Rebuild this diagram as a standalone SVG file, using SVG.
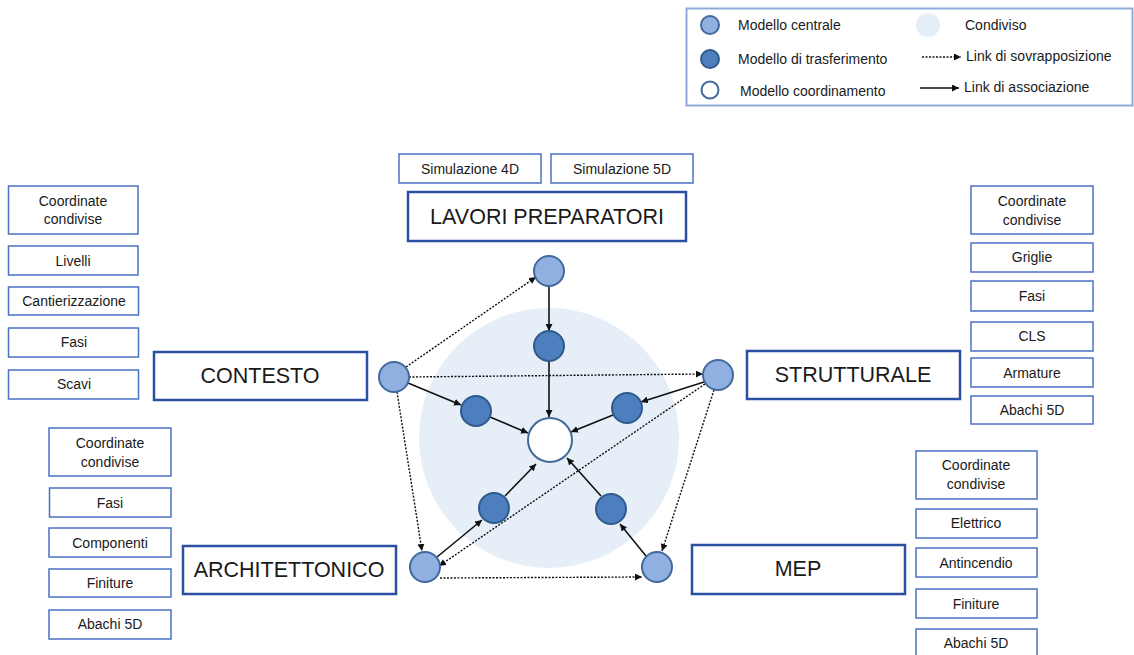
<svg xmlns="http://www.w3.org/2000/svg" width="1134" height="655" viewBox="0 0 1134 655">
  <defs>
    <style>
      text { font-family: "Liberation Sans", Arial, sans-serif; fill: #1a1a1a; }
      .big { fill: #fff; stroke: #2a4fa3; stroke-width: 2.5; }
      .big-t { font-size: 21.5px; text-anchor: middle; dominant-baseline: central; }
      .tag { fill: #fff; stroke: #4a72c4; stroke-width: 1.5; }
      .tag-t { font-size: 14px; text-anchor: middle; dominant-baseline: central; }
      .leg-t { font-size: 14px; dominant-baseline: central; }
      .central { fill: #8fb0e0; stroke: #41699c; stroke-width: 2; }
      .transfer { fill: #4d7ebd; stroke: #2f5a8c; stroke-width: 2; }
      .coord { fill: #fff; stroke: #41699c; stroke-width: 2; }
      .assoc { stroke: #111; stroke-width: 1.6; fill: none; marker-end: url(#arr); }
      .overlap { stroke: #111; stroke-width: 1.4; stroke-dasharray: 2 1.5; fill: none; marker-end: url(#arr); }
    </style>
    <marker id="arr" viewBox="0 0 10 10" refX="10" refY="5" markerWidth="7" markerHeight="7" markerUnits="userSpaceOnUse" orient="auto">
      <path d="M0,0 L10,5 L0,10 z" fill="#111"/>
    </marker>
  </defs>

  <!-- legend -->
  <g id="legend">
    <rect x="686.5" y="8.5" width="446" height="97" fill="#fff" stroke="#8eaadb" stroke-width="2"/>
    <circle class="central" cx="710" cy="25" r="9"/>
    <text class="leg-t" x="738" y="25">Modello centrale</text>
    <circle class="transfer" cx="710" cy="59" r="9"/>
    <text class="leg-t" x="738" y="59">Modello di trasferimento</text>
    <circle class="coord" cx="710" cy="90" r="8.5"/>
    <text class="leg-t" x="740" y="91">Modello coordinamento</text>
    <circle cx="928" cy="25" r="12" fill="#e6eef8"/>
    <text class="leg-t" x="965" y="25">Condiviso</text>
    <line class="overlap" x1="922" y1="57" x2="961" y2="57"/>
    <text class="leg-t" x="966" y="56">Link di sovrapposizione</text>
    <line class="assoc" x1="920" y1="88" x2="959" y2="88"/>
    <text class="leg-t" x="964" y="87">Link di associazione</text>
  </g>

  <!-- shared area -->
  <circle id="shared" cx="549" cy="438" r="130" fill="#e6eef8"/>

  <!-- connectors -->
  <g id="connectors">
    <!-- overlap links -->
    <line class="overlap" x1="406" y1="367" x2="536" y2="277"/>
    <line class="overlap" x1="409" y1="377" x2="703" y2="374"/>
    <line class="overlap" x1="397" y1="392" x2="422" y2="551"/>
    <line class="overlap" x1="705" y1="384" x2="439" y2="566"/>
    <line class="overlap" x1="714" y1="390" x2="662" y2="551"/>
    <line class="overlap" x1="440" y1="578" x2="642" y2="577"/>
    <!-- association links -->
    <line class="assoc" x1="549" y1="286" x2="549" y2="331"/>
    <line class="assoc" x1="549" y1="361" x2="549" y2="417"/>
    <line class="assoc" x1="408" y1="383" x2="461" y2="405"/>
    <line class="assoc" x1="490" y1="417" x2="528" y2="433"/>
    <line class="assoc" x1="704" y1="382" x2="641" y2="402"/>
    <line class="assoc" x1="613" y1="415" x2="571" y2="432"/>
    <line class="assoc" x1="437" y1="557" x2="482" y2="520"/>
    <line class="assoc" x1="505" y1="496" x2="536" y2="464"/>
    <line class="assoc" x1="646" y1="556" x2="620" y2="524"/>
    <line class="assoc" x1="601" y1="496" x2="567" y2="458"/>
  </g>

  <!-- model nodes -->
  <g id="node-top-central"><circle class="central" cx="549" cy="271" r="15"/></g>
  <g id="node-top-transfer"><circle class="transfer" cx="549" cy="346" r="15"/></g>
  <g id="node-coordination"><circle class="coord" cx="550" cy="440" r="22"/></g>
  <g id="node-left-central"><circle class="central" cx="394" cy="377" r="15"/></g>
  <g id="node-right-central"><circle class="central" cx="718" cy="375" r="15"/></g>
  <g id="node-left-transfer"><circle class="transfer" cx="476" cy="411" r="15"/></g>
  <g id="node-right-transfer"><circle class="transfer" cx="627" cy="408" r="15"/></g>
  <g id="node-lowleft-transfer"><circle class="transfer" cx="494" cy="508" r="15"/></g>
  <g id="node-lowright-transfer"><circle class="transfer" cx="611" cy="509" r="15"/></g>
  <g id="node-arch-central"><circle class="central" cx="425" cy="567" r="15"/></g>
  <g id="node-mep-central"><circle class="central" cx="657" cy="567" r="15"/></g>

  <!-- LAVORI PREPARATORI -->
  <g id="lavori">
    <rect class="tag" x="399" y="154" width="142" height="29"/>
    <text class="tag-t" x="470" y="169">Simulazione 4D</text>
    <rect class="tag" x="551" y="154" width="142" height="29"/>
    <text class="tag-t" x="622" y="169">Simulazione 5D</text>
    <rect class="big" x="408" y="192" width="278" height="49"/>
    <text class="big-t" x="547" y="217">LAVORI PREPARATORI</text>
  </g>

  <!-- CONTESTO -->
  <g id="contesto">
    <rect class="big" x="154" y="352" width="213" height="48"/>
    <text class="big-t" x="260" y="376">CONTESTO</text>
    <rect class="tag" x="8.5" y="186" width="129.5" height="48"/>
    <text class="tag-t" x="73" y="201">Coordinate</text>
    <text class="tag-t" x="73" y="219">condivise</text>
    <rect class="tag" x="8.5" y="246" width="129.5" height="29"/>
    <text class="tag-t" x="73" y="261">Livelli</text>
    <rect class="tag" x="8.5" y="287" width="130" height="28"/>
    <text class="tag-t" x="74" y="301">Cantierizzazione</text>
    <rect class="tag" x="8.5" y="328" width="130" height="29"/>
    <text class="tag-t" x="74" y="342">Fasi</text>
    <rect class="tag" x="8.5" y="370" width="130" height="29"/>
    <text class="tag-t" x="74" y="384">Scavi</text>
  </g>

  <!-- STRUTTURALE -->
  <g id="strutturale">
    <rect class="big" x="747" y="351" width="213" height="48"/>
    <text class="big-t" x="853" y="375">STRUTTURALE</text>
    <rect class="tag" x="971" y="186" width="122" height="48"/>
    <text class="tag-t" x="1032" y="201">Coordinate</text>
    <text class="tag-t" x="1032" y="220">condivise</text>
    <rect class="tag" x="971" y="243" width="122" height="29"/>
    <text class="tag-t" x="1032" y="257">Griglie</text>
    <rect class="tag" x="971" y="281" width="122" height="30"/>
    <text class="tag-t" x="1032" y="296">Fasi</text>
    <rect class="tag" x="971" y="322" width="122" height="29"/>
    <text class="tag-t" x="1032" y="336">CLS</text>
    <rect class="tag" x="971" y="358" width="122" height="29"/>
    <text class="tag-t" x="1032" y="373">Armature</text>
    <rect class="tag" x="971" y="396" width="122" height="28"/>
    <text class="tag-t" x="1032" y="410">Abachi 5D</text>
  </g>

  <!-- ARCHITETTONICO -->
  <g id="architettonico">
    <rect class="big" x="183" y="546" width="213" height="48"/>
    <text class="big-t" x="289" y="570">ARCHITETTONICO</text>
    <rect class="tag" x="49" y="428" width="122" height="48"/>
    <text class="tag-t" x="110" y="443">Coordinate</text>
    <text class="tag-t" x="110" y="462">condivise</text>
    <rect class="tag" x="49.5" y="488" width="121.5" height="29"/>
    <text class="tag-t" x="110" y="503">Fasi</text>
    <rect class="tag" x="49" y="528" width="122" height="29"/>
    <text class="tag-t" x="110" y="543">Componenti</text>
    <rect class="tag" x="49" y="569" width="122" height="28"/>
    <text class="tag-t" x="110" y="583">Finiture</text>
    <rect class="tag" x="49" y="610" width="122" height="29"/>
    <text class="tag-t" x="110" y="624">Abachi 5D</text>
  </g>

  <!-- MEP -->
  <g id="mep">
    <rect class="big" x="692" y="545" width="213" height="49"/>
    <text class="big-t" x="798" y="569">MEP</text>
    <rect class="tag" x="916" y="451" width="121" height="48"/>
    <text class="tag-t" x="976" y="465">Coordinate</text>
    <text class="tag-t" x="976" y="484">condivise</text>
    <rect class="tag" x="916" y="509" width="121" height="29"/>
    <text class="tag-t" x="976" y="523">Elettrico</text>
    <rect class="tag" x="916" y="548" width="121" height="29"/>
    <text class="tag-t" x="976" y="563">Antincendio</text>
    <rect class="tag" x="916" y="589" width="121" height="29"/>
    <text class="tag-t" x="976" y="604">Finiture</text>
    <rect class="tag" x="916" y="629" width="121" height="29"/>
    <text class="tag-t" x="976" y="643">Abachi 5D</text>
  </g>
</svg>
